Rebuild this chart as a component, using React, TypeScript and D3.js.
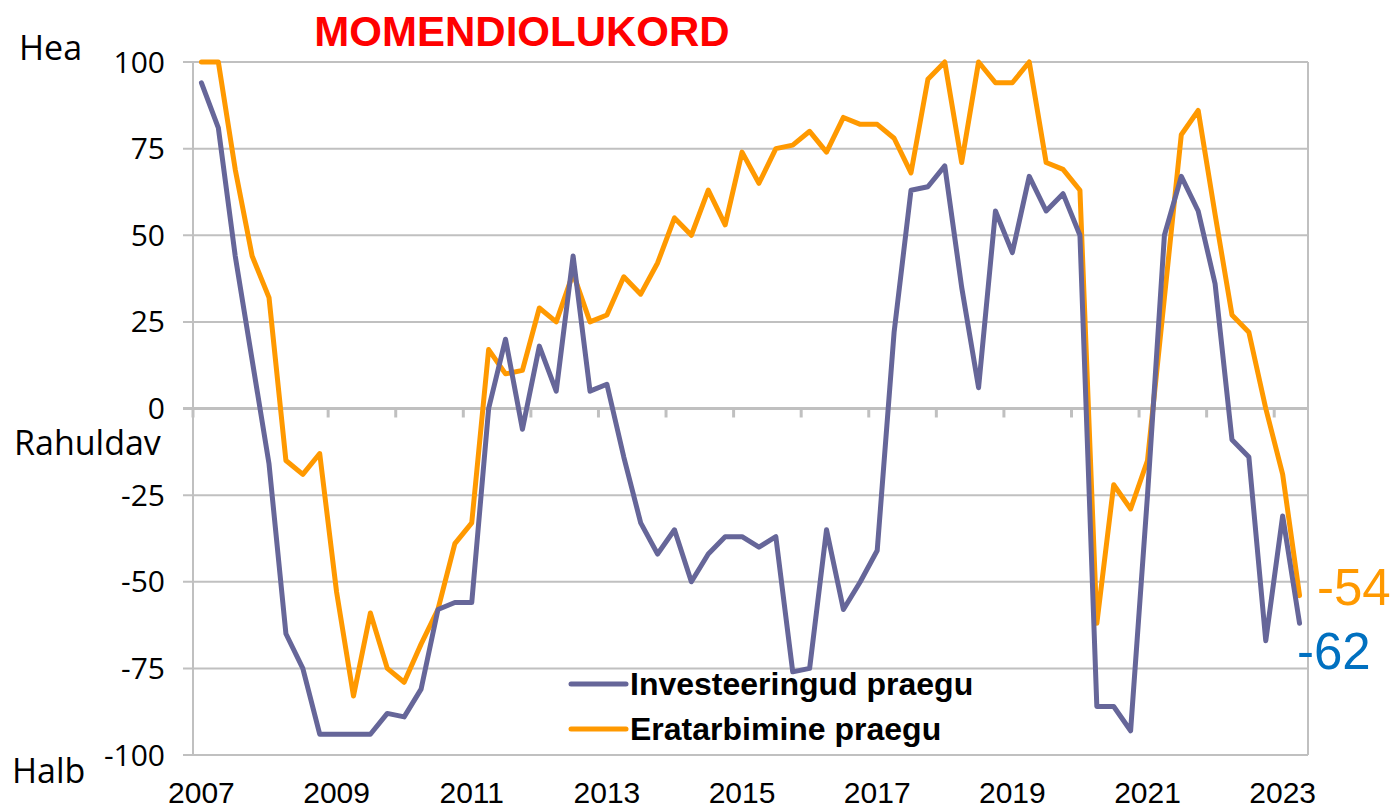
import React from "react";
import * as d3 from "d3";

const years = ["2007","2008","2009","2010","2011","2012","2013","2014","2015","2016","2017","2018","2019","2020","2021","2022","2023"];
const yTicks = [-100, -75, -50, -25, 0, 25, 50, 75, 100];
const invest = [94,81,44,14,-16,-65,-75,-94,-94,-94,-94,-88,-89,-81,-58,-56,-56,0,20,-6,18,5,44,5,7,-14,-33,-42,-35,-50,-42,-37,-37,-40,-37,-76,-75,-35,-58,-50,-41,22,63,64,70,35,6,57,45,67,57,62,50,-86,-86,-93,-25,50,67,57,36,-9,-14,-67,-31,-62];
const consumption = [100,100,69,44,32,-15,-19,-13,-53,-83,-59,-75,-79,-68,-58,-39,-33,17,10,11,29,25,39,25,27,38,33,42,55,50,63,53,74,65,75,76,80,74,84,82,82,78,68,95,100,71,100,94,94,100,71,69,63,-62,-22,-29,-15,32,79,86,56,27,22,0,-19,-54];
const seriesNames = ["Investeeringud praegu", "Eratarbimine praegu"];
const sideLabels = [
  { text: "Hea", value: 100 },
  { text: "Rahuldav", value: 0 },
  { text: "Halb", value: -100 },
];
const title = "MOMENDIOLUKORD";

export default function App() {
  const W = 1394, H = 807;
  const left = 193, right = 1308, top = 62, bottom = 755;
  const n = invest.length;
  const x = d3.scaleLinear().domain([0, n]).range([left, right]);
  const y = d3.scaleLinear().domain([-100, 100]).range([bottom, top]);
  const line = d3.line<number>().x((_, i) => x(i + 0.5)).y((d) => y(d));
  const purple = "#666699", orange = "#FF9900", grid = "#C0C0C0";
  const sans = "'Liberation Sans', Arial, sans-serif";
  const side = "'Open Sans', sans-serif";
  return (
    <svg width={W} height={H} style={{ position: "absolute", left: 0, top: 0, background: "#fff" }}>
      <rect x={0} y={0} width={W} height={H} fill="#fff" />
      {yTicks.map((v) => (
        <line key={"g" + v} x1={left - 10} x2={right} y1={y(v)} y2={y(v)} stroke={grid} strokeWidth={v === 0 ? 3 : 2} />
      ))}
      <line x1={left} x2={left} y1={top} y2={bottom} stroke={grid} strokeWidth={2} />
      <line x1={right} x2={right} y1={top} y2={bottom} stroke={grid} strokeWidth={2} />
      {years.map((yr, k) => (
        <line key={"t" + yr} x1={x(k * 4)} x2={x(k * 4)} y1={y(0)} y2={y(0) + 9} stroke={grid} strokeWidth={3} />
      ))}
      {yTicks.map((v) => (
        <text key={"l" + v} x={165} y={y(v)} dy="0.35em" textAnchor="end" fontFamily={side} fontSize={30} fill="#000">{v}</text>
      ))}
      {years.map((yr, k) => k % 2 === 0 ? (
        <text key={"x" + yr} x={x(k * 4 + 0.5)} y={803} textAnchor="middle" fontFamily={sans} fontSize={30} fill="#000">{yr}</text>
      ) : null)}
      <text x={19} y={60} fontFamily={side} fontSize={34} fill="#000">{sideLabels[0].text}</text>
      <text x={14} y={455} fontFamily={side} fontSize={34} fill="#000">{sideLabels[1].text}</text>
      <text x={12} y={783} fontFamily={side} fontSize={34} fill="#000">{sideLabels[2].text}</text>
      <text x={522} y={46} textAnchor="middle" fontFamily={sans} fontWeight="bold" fontSize={42} fill="#FF0000">{title}</text>
      <path d={line(consumption) || ""} fill="none" stroke={orange} strokeWidth={5} strokeLinejoin="round" strokeLinecap="round" />
      <path d={line(invest) || ""} fill="none" stroke={purple} strokeWidth={5} strokeLinejoin="round" strokeLinecap="round" />
      <line x1={571} x2={626} y1={684} y2={684} stroke={purple} strokeWidth={5} strokeLinecap="round" />
      <text x={630} y={695} fontFamily={sans} fontWeight="bold" fontSize={32} fill="#000">{seriesNames[0]}</text>
      <line x1={571} x2={626} y1={729} y2={729} stroke={orange} strokeWidth={5} strokeLinecap="round" />
      <text x={630} y={740} fontFamily={sans} fontWeight="bold" fontSize={32} fill="#000">{seriesNames[1]}</text>
      <text x={1317} y={605} fontFamily={sans} fontSize={51} fill={orange}>{consumption[n - 1]}</text>
      <text x={1297} y={669} fontFamily={sans} fontSize={51} fill="#0070C0">{invest[n - 1]}</text>
    </svg>
  );
}
